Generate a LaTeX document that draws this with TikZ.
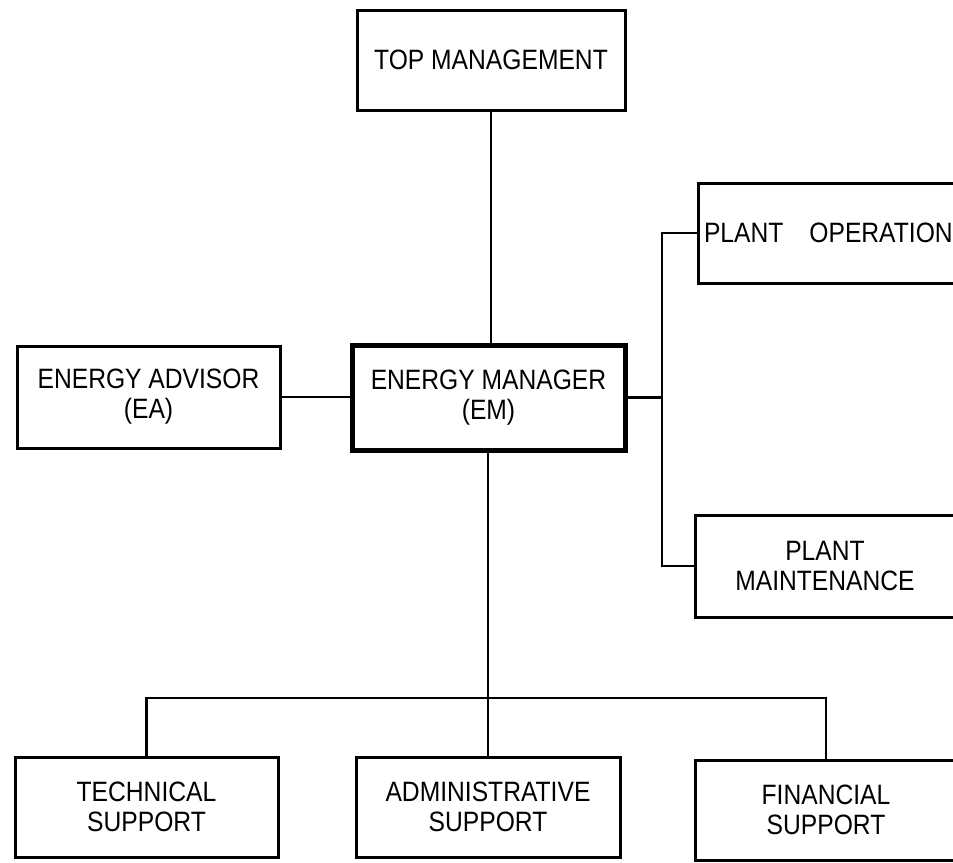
\documentclass[tikz,border=0pt]{standalone}
\usepackage{fontspec}
\setmainfont{Liberation Sans}[FakeStretch=0.88]
\begin{document}
\begin{tikzpicture}[x=1pt,y=-1pt,
  box/.style={draw=black, line width=3pt, rectangle, inner sep=0pt, align=center,
    font=\fontsize{28}{30}\selectfont},
  mainbox/.style={box, line width=5pt},
  link/.style={draw=black, line width=2.6pt}]
\useasboundingbox (0,0) rectangle (953,862);
\clip (0,0) rectangle (953,862);
\fill[white] (0,0) rectangle (953,862);
% boxes
\node[box, minimum width=268, minimum height=100] (top) at (491,60) {TOP MANAGEMENT};
\node[box, minimum width=263, minimum height=102] (ea) at (148.5,397) {ENERGY ADVISOR\\(EA)};
\node[mainbox, minimum width=273, minimum height=105] (em) at (488.5,397.5) {ENERGY MANAGER\\(EM)};
\node[box, minimum width=292, minimum height=100, text width=280, align=left, inner xsep=5pt] (po) at (844,233) {PLANT\hspace{26pt}OPERATION};
\node[box, minimum width=260, minimum height=102] (pm) at (825,566) {PLANT\\MAINTENANCE};
\node[box, minimum width=263, minimum height=100] (tech) at (146.5,807) {TECHNICAL\\SUPPORT};
\node[box, minimum width=264, minimum height=100] (admin) at (488,807) {ADMINISTRATIVE\\SUPPORT};
\node[box, minimum width=262, minimum height=100] (fin) at (826,810) {FINANCIAL\\SUPPORT};
% junctions
\coordinate (sp) at (662,397);
\coordinate (bus) at (487,698);
% connectors
\draw[link] (top.south) -- (top.south |- em.north);
\draw[link] (ea.east) -- (ea.east -| em.west);
\draw[link] (em.east) -- (em.east -| sp);
\draw[link] (po.west) -- (po.west -| sp) -- (pm.west -| sp) -- (pm.west);
\draw[link] (admin.north |- em.south) -- (admin.north);
\draw[link] (tech.north) -- (tech.north |- bus) -- (fin.north |- bus) -- (fin.north);
\end{tikzpicture}
\end{document}
